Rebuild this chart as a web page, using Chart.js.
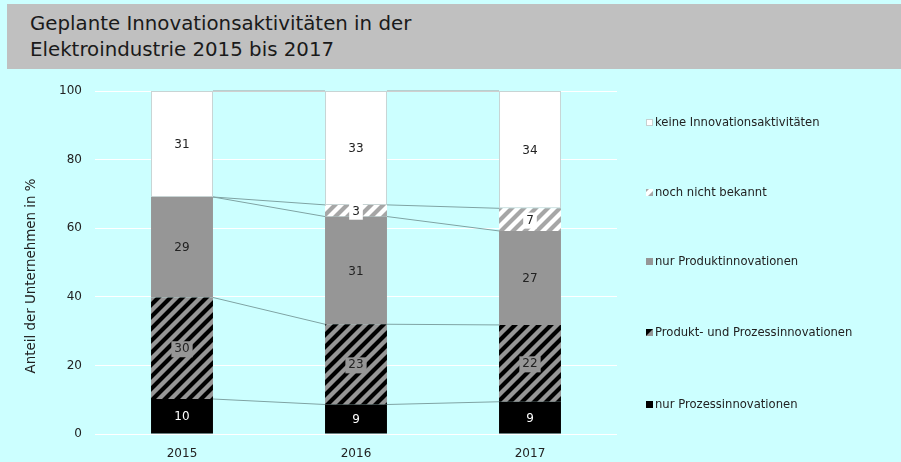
<!DOCTYPE html>
<html>
<head>
<meta charset="utf-8">
<script src="https://cdn.jsdelivr.net/npm/chart.js@4/dist/chart.umd.min.js"></script>
<style>
  html, body { margin:0; padding:0; background:#ccffff; }
  #wrap { position:relative; width:901px; height:462px; overflow:hidden; }
  #title { position:absolute; left:7px; top:4px; width:894px; height:65px; background:#c0c0c0;
    font-family:"DejaVu Sans", Verdana, sans-serif; font-size:19.8px; line-height:26px; color:#1a1a1a;
    box-sizing:border-box; padding:7px 0 0 23px; }
  canvas { position:absolute; left:0; top:0; }
</style>
</head>
<body>
<div id="wrap">
  <canvas id="c" width="901" height="462"></canvas>
  <div id="title">Geplante Innovationsaktivitäten in der<br>Elektroindustrie 2015 bis 2017</div>
</div>
<script>
const categories = ['2015', '2016', '2017'];
const nurProzess = [10.2, 8.6, 9.4];
const produktProzess = [29.6, 23.4, 22.4];
const nurProdukt = [29.3, 31.4, 27.4];
const nochNicht = [0, 3.4, 6.6];
const keine = [30.9, 33.2, 34.2];
const seriesNames = ['nur Prozessinnovationen', 'Produkt- und Prozessinnovationen', 'nur Produktinnovationen', 'noch nicht bekannt', 'keine Innovationsaktivitäten'];
const yTicks = [0, 20, 40, 60, 80, 100];
const yTitle = 'Anteil der Unternehmen in %';

const FONT = '"DejaVu Sans", Verdana, sans-serif';

function hatch(bg, fg, size, lw) {
  const c = document.createElement('canvas');
  c.width = c.height = size;
  const x = c.getContext('2d');
  x.fillStyle = bg; x.fillRect(0, 0, size, size);
  x.strokeStyle = fg; x.lineWidth = lw;
  x.beginPath();
  x.moveTo(-size, size * 2); x.lineTo(size * 2, -size);
  x.moveTo(-size, size); x.lineTo(size, -size);
  x.moveTo(0, size * 2); x.lineTo(size * 2, 0);
  x.stroke();
  return x.createPattern(c, 'repeat');
}
const patPP = hatch('#969696', '#000000', 12, 4.2);
const patNN = hatch('#ffffff', '#a6a6a6', 12, 4.2);

const fills = ['#000000', patPP, '#969696', patNN, '#ffffff'];
const labelColors = ['#ffffff', '#222222', '#222222', '#222222', '#222222'];
const labelBoxes = [null, '#969696', null, '#ffffff', null];
const legendBoxes = ['#000000', 'pp', '#969696', 'nn', '#ffffff'];
const dataArrays = [nurProzess, produktProzess, nurProdukt, nochNicht, keine];

const seriesLines = {
  id: 'seriesLines',
  beforeDatasetsDraw(chart) {
    const ctx = chart.ctx;
    ctx.save();
    ctx.lineWidth = 1;
    for (let d = 0; d < dataArrays.length; d++) {
      const meta = chart.getDatasetMeta(d);
      for (let i = 0; i < meta.data.length - 1; i++) {
        const a = meta.data[i], b = meta.data[i + 1];
        ctx.strokeStyle = d === 4 ? '#a0a0a0' : '#7fa3a3';
        ctx.beginPath();
        ctx.moveTo(a.x + a.width / 2, a.y);
        ctx.lineTo(b.x - b.width / 2, b.y);
        ctx.stroke();
      }
    }
    ctx.restore();
  }
};

const labelsPlugin = {
  id: 'segLabels',
  afterDatasetsDraw(chart) {
    const ctx = chart.ctx;
    ctx.save();
    ctx.font = '12px ' + FONT;
    ctx.textAlign = 'center';
    ctx.textBaseline = 'middle';
    for (let d = 0; d < dataArrays.length; d++) {
      const meta = chart.getDatasetMeta(d);
      meta.data.forEach((el, i) => {
        const v = dataArrays[d][i];
        if (!v) return;
        const t = String(Math.round(v));
        const cx = el.x, cy = (el.y + el.base) / 2 + 1;
        if (labelBoxes[d]) {
          const w = ctx.measureText(t).width + 6;
          ctx.fillStyle = labelBoxes[d];
          ctx.fillRect(cx - w / 2, cy - 8, w, 16);
        }
        ctx.fillStyle = labelColors[d];
        ctx.fillText(t, cx, cy);
      });
    }
    ctx.restore();
  }
};

const legendPlugin = {
  id: 'customLegend',
  afterDraw(chart) {
    const ctx = chart.ctx;
    ctx.save();
    // y-axis title
    ctx.save();
    ctx.translate(32, 276);
    ctx.rotate(-Math.PI / 2);
    ctx.font = '13.4px ' + FONT;
    ctx.fillStyle = '#222222';
    ctx.textAlign = 'center';
    ctx.textBaseline = 'middle';
    ctx.fillText(yTitle, 0, 0);
    ctx.restore();

    const ys = [405, 333, 262, 193, 123];
    ctx.font = '11.6px ' + FONT;
    ctx.textBaseline = 'middle';
    ctx.textAlign = 'left';
    for (let d = 0; d < seriesNames.length; d++) {
      const y = ys[d];
      const bx = 646, by = y - 4, s = 7;
      const lb = legendBoxes[d];
      if (lb === 'pp') {
        ctx.fillStyle = '#969696'; ctx.fillRect(bx, by, s, s);
        ctx.fillStyle = '#000'; ctx.beginPath(); ctx.moveTo(bx, by); ctx.lineTo(bx + s, by); ctx.lineTo(bx, by + s); ctx.closePath(); ctx.fill();
      } else if (lb === 'nn') {
        ctx.fillStyle = '#ffffff'; ctx.fillRect(bx, by, s, s);
        ctx.fillStyle = '#a6a6a6'; ctx.beginPath(); ctx.moveTo(bx + 2, by + s); ctx.lineTo(bx + s, by + 2); ctx.lineTo(bx + s, by + s); ctx.closePath(); ctx.fill();
        ctx.beginPath(); ctx.moveTo(bx, by + 3); ctx.lineTo(bx + 3, by); ctx.lineTo(bx, by); ctx.closePath(); ctx.fill();
      } else {
        ctx.fillStyle = lb; ctx.fillRect(bx, by, s, s);
        if (lb === '#ffffff') { ctx.strokeStyle = '#c8d0d0'; ctx.lineWidth = 1; ctx.strokeRect(bx + 0.5, by + 0.5, s - 1, s - 1); }
      }
      ctx.fillStyle = '#222222';
      ctx.fillText(seriesNames[d], 655, y);
    }
    ctx.restore();
  }
};

new Chart(document.getElementById('c'), {
  type: 'bar',
  data: {
    labels: categories,
    datasets: dataArrays.map((arr, d) => ({
      label: seriesNames[d],
      data: arr,
      backgroundColor: fills[d],
      borderColor: d === 4 ? '#c8d4d4' : 'rgba(0,0,0,0)',
      borderWidth: d === 4 ? 1 : 0,
      borderSkipped: false,
      barPercentage: 0.356,
      categoryPercentage: 1.0
    }))
  },
  options: {
    responsive: false,
    animation: false,
    layout: { padding: { left: 0, right: 284, top: 91, bottom: 0 } },
    plugins: { legend: { display: false }, tooltip: { enabled: false }, title: { display: false } },
    scales: {
      x: {
        stacked: true,
        grid: { display: false },
        border: { display: false },
        ticks: { color: '#222', font: { family: FONT, size: 12 }, padding: 5 },
        afterFit(s) { s.height = 28; }
      },
      y: {
        stacked: true,
        min: 0, max: 100,
        afterBuildTicks(s) { s.ticks = yTicks.map(v => ({ value: v })); },
        grid: { color: '#ffffff', lineWidth: 1, drawTicks: false },
        border: { display: false },
        ticks: { color: '#222', font: { family: FONT, size: 12 }, padding: 13 },
        title: { display: false },
        afterFit(s) { s.width = 95; }
      }
    }
  },
  plugins: [seriesLines, labelsPlugin, legendPlugin]
});
</script>
</body>
</html>
